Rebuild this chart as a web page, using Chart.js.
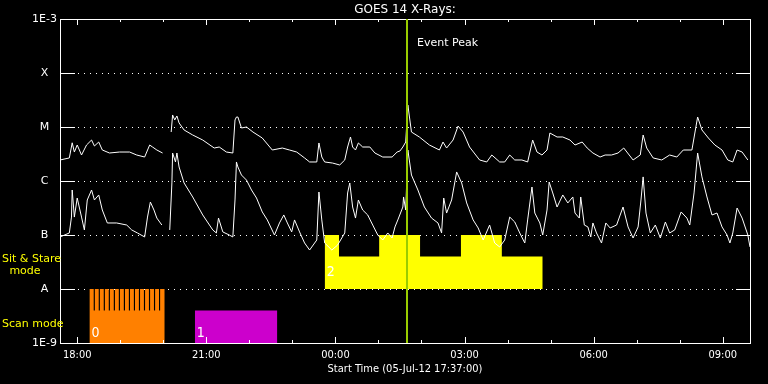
<!DOCTYPE html>
<html>
<head>
<meta charset="utf-8">
<title>GOES 14 X-Rays</title>
<script src="https://cdn.jsdelivr.net/npm/chart.js@4.4.1/dist/chart.umd.min.js"></script>
<style>
  html, body { margin: 0; padding: 0; background: #000; }
  #wrap { width: 768px; height: 384px; }
</style>
</head>
<body>
<div id="wrap"><canvas id="goesChart" width="768" height="384"></canvas></div>
<script>
// times are minutes after the start time, 05-Jul-12 17:37:00
const longTimes = [-1, 12, 16, 19, 23, 29, 36, 43, 47, 53, 58, 68, 82, 96, 106, 117, 124, 128, 134, 142, 148,
  154, 156, 159, 162, 165, 172, 184, 198, 214, 221, 231, 240, 243, 245, 247, 252, 259, 268, 281, 295, 309, 319,
  329, 340, 347, 357, 360, 364, 368, 379, 389, 396, 400, 404, 407, 411, 415, 421, 431, 438, 449, 462, 469, 473,
  477, 481, 484, 489, 500, 514, 528, 533, 538, 547, 554, 561, 570, 584, 594, 601, 612, 619, 626, 633, 643, 651,
  658, 664, 671, 678, 682, 692, 700, 710, 717, 727, 734, 742, 752, 759, 768, 777, 785, 798, 808, 812, 817, 826,
  838, 849, 859, 868, 880, 888, 894, 903, 912, 922, 930, 937, 943, 950, 958];
const longFlux = [2.45e-6, 2.67e-6, 5.1e-6, 3.44e-6, 4.64e-6, 3.03e-6, 4.64e-6, 5.74e-6, 4.45e-6, 5.27e-6, 3.75e-6,
  3.3e-6, 3.44e-6, 3.44e-6, 3.03e-6, 2.78e-6, 4.64e-6, 4.26e-6, 3.75e-6, 3.3e-6, null,
  8.07e-6, 1.67e-5, 1.35e-5, 1.6e-5, 1.19e-5, 8.8e-6, 7.11e-6, 5.74e-6, 4.08e-6, 4.26e-6, 3.44e-6, 3.3e-6,
  1.35e-5, 1.53e-5, 1.53e-5, 9.58e-6, 1.0e-5, 8.07e-6, 6.25e-6, 3.75e-6, 4.08e-6, 3.75e-6, 3.44e-6, 2.67e-6,
  2.25e-6, 2.25e-6, 5.06e-6, 2.78e-6, 2.25e-6, 2.15e-6, 1.98e-6, 2.45e-6, 4.26e-6, 6.53e-6, 4.26e-6, 3.75e-6,
  5.06e-6, 4.26e-6, 4.26e-6, 3.3e-6, 2.78e-6, 2.78e-6, 3.44e-6, 3.6e-6, 4.26e-6, 5.27e-6, 2.55e-5, 8.07e-6,
  6.53e-6, 4.64e-6, 3.75e-6, 5.27e-6, 4.08e-6, 5.74e-6, 1.04e-5, 8.07e-6, 4.26e-6, 2.45e-6, 2.25e-6, 3.03e-6,
  2.25e-6, 2.25e-6, 3.03e-6, 2.45e-6, 2.45e-6, 2.25e-6, 5.74e-6, 3.44e-6, 3.03e-6, 3.75e-6, 7.74e-6, 6.53e-6,
  6.53e-6, 5.74e-6, 4.64e-6, 5.27e-6, 4.08e-6, 3.3e-6, 2.78e-6, 3.03e-6, 3.03e-6, 3.3e-6, 4.08e-6, 2.45e-6,
  3.03e-6, 7.11e-6, 4.08e-6, 2.67e-6, 2.45e-6, 3.03e-6, 2.78e-6, 3.75e-6, 3.75e-6, 1.53e-5, 8.8e-6, 6.25e-6,
  4.64e-6, 3.75e-6, 2.45e-6, 2.25e-6, 3.75e-6, 3.44e-6, 2.45e-6];

const shortTimes = [-1, 12, 15, 16, 19, 23, 29, 33, 37, 43, 47, 53, 58, 65, 78, 92, 99, 107, 117, 121, 125, 130, 134,
  141, 148, 152, 155, 156, 160, 162, 165, 172, 184, 198, 212, 217, 220, 226, 235, 240, 243, 245, 247, 252, 259,
  266, 273, 281, 288, 298, 305, 311, 316, 322, 326, 333, 340, 347, 357, 360, 364, 368, 378, 386, 396, 400, 403,
  407, 411, 415, 421, 428, 435, 442, 449, 456, 462, 466, 470, 477, 478, 481, 484, 489, 498, 507, 517, 526, 531,
  534, 538, 545, 552, 559, 566, 575, 582, 589, 598, 605, 612, 619, 626, 633, 640, 647, 651, 657, 661, 668, 672,
  678, 681, 686, 692, 700, 707, 714, 717, 723, 725, 730, 735, 739, 742, 747, 754, 760, 766, 775, 784, 791, 798,
  805, 809, 812, 816, 822, 829, 836, 843, 849, 856, 865, 873, 877, 883, 888, 894, 901, 908, 915, 922, 929, 933,
  937, 943, 950, 958, 961];
const shortFlux = [9.19e-8, 1.09e-7, 2.15e-7, 6.81e-7, 2.15e-7, 4.84e-7, 2.15e-7, 1.24e-7, 4.45e-7, 6.81e-7,
  4.45e-7, 5.51e-7, 2.9e-7, 1.67e-7, 1.67e-7, 1.53e-7, 1.24e-7, 1.09e-7, 9.19e-8, 2.15e-7, 4.08e-7, 2.9e-7,
  2.06e-7, 1.53e-7, null, 1.24e-7, 9.19e-7, 3.3e-6, 2.25e-6, 3.3e-6, 1.82e-6, 9.19e-7, 5.06e-7, 2.35e-7,
  1.24e-7, 1.09e-7, 2.06e-7, 1.14e-7, 1.0e-7, 9.19e-8, 4.45e-7, 2.25e-6, 1.82e-6, 1.29e-6, 1.04e-6, 6.81e-7,
  4.84e-7, 2.67e-7, 1.9e-7, 1.0e-7, 1.67e-7, 2.35e-7, 1.67e-7, 1.14e-7, 1.9e-7, 1.14e-7, 7.11e-8, 5.27e-8,
  8.07e-8, 6.25e-7, 1.9e-7, 7.11e-8, 5.27e-8, 6.5e-8, 1.09e-7, 6.0e-7, 9.19e-7, 3.3e-7, 2.06e-7, 4.45e-7,
  2.9e-7, 2.35e-7, 1.53e-7, 1.0e-7, 8.07e-8, 1.09e-7, 8.8e-8, 1.41e-7, 1.9e-7, 3.3e-7, 5.06e-7, 2.9e-7,
  3.75e-6, 1.29e-6, 6.81e-7, 3.3e-7, 2.06e-7, 1.67e-7, 1.09e-7, 4.84e-7, 2.55e-7, 4.45e-7, 1.47e-6, 9.19e-7,
  3.92e-7, 1.9e-7, 1.35e-7, 8.07e-8, 1.53e-7, 7.11e-8, 6.0e-8, 8.07e-8, 2.15e-7, 1.74e-7, 1.09e-7, 7.11e-8,
  1.9e-7, 7.74e-7, 2.55e-7, 1.67e-7, 1.0e-7, 2.9e-7, 9.58e-7, 6.0e-7, 3.3e-7, 5.51e-7, 3.92e-7, 5.06e-7,
  2.55e-7, 2.06e-7, 5.06e-7, 1.53e-7, 1.41e-7, 9.19e-8, 1.67e-7, 1.09e-7, 7.11e-8, 1.67e-7, 1.35e-7, 1.53e-7,
  3.3e-7, 1.41e-7, 8.8e-8, 1.41e-7, 4.45e-7, 1.19e-6, 2.55e-7, 1.09e-7, 1.53e-7, 8.8e-8, 1.74e-7, 1.09e-7,
  1.24e-7, 2.67e-7, 2.06e-7, 1.53e-7, 6.0e-7, 3.3e-6, 1.19e-6, 5.06e-7, 2.35e-7, 2.55e-7, 1.41e-7, 1.0e-7,
  7.11e-8, 1.09e-7, 3.16e-7, 2.06e-7, 1.0e-7, 6.0e-8];

// observing modes (bottom strip)
const scan0Start = 40, scan0End = 145;
const scan0Gaps = [46, 53, 60, 67, 74, 81, 88, 95, 102, 109, 116, 123, 130, 137];
const scan1Start = 187, scan1End = 302;
const sitStarts = [368, 388, 444, 501, 558, 615];
const sitEnds = [388, 444, 501, 558, 615, 672];
const sitLevels = [1e-7, 4e-8, 1e-7, 4e-8, 1e-7, 4e-8];
const scanTop = 4e-9, scanToothTop = 1e-8;
const modeNames = ['0', '1', '2'];
const modeStarts = [scan0Start, scan1Start, sitStarts[0]];
const modeLabelLevels = [1.5e-9, 1.5e-9, 2.06e-8];

const eventPeak = 483;

// axes
const yTickValues = [1e-9, 1e-8, 1e-7, 1e-6, 1e-5, 1e-4, 1e-3];
const yTickLabels = ['1E-9', 'A', 'B', 'C', 'M', 'X', '1E-3'];
const gridLevels = [1e-8, 1e-7, 1e-6, 1e-5, 1e-4];
const xTickMinutes = [23, 203, 383, 563, 743, 923];
const xTickLabels = ['18:00', '21:00', '00:00', '03:00', '06:00', '09:00'];
const xMinorMinutes = [83, 143, 263, 323, 443, 503, 623, 683, 803, 863];

const pts = (xs, ys) => xs.map((x, i) => ({ x: x, y: ys[i] }));

const scan0Pts = [{ x: scan0Start, y: scanToothTop }];
scan0Gaps.forEach(g => {
  scan0Pts.push({ x: g, y: scanToothTop }, { x: g, y: scanTop }, { x: g + 1.6, y: scanTop }, { x: g + 1.6, y: scanToothTop });
});
scan0Pts.push({ x: scan0End, y: scanToothTop });

const sitPts = [];
sitStarts.forEach((s, i) => { sitPts.push({ x: s, y: sitLevels[i] }, { x: sitEnds[i], y: sitLevels[i] }); });

const goesFrame = {
  id: 'goesFrame',
  beforeDraw(chart) {
    const ctx = chart.ctx;
    ctx.save();
    ctx.fillStyle = '#000';
    ctx.fillRect(0, 0, chart.width, chart.height);
    ctx.restore();
  },
  beforeDatasetsDraw(chart) {
    const { ctx, chartArea: a, scales: { y } } = chart;
    ctx.save();
    ctx.strokeStyle = '#fff';
    ctx.lineWidth = 1;
    ctx.setLineDash([1, 5]);
    gridLevels.forEach(v => {
      const py = Math.round(y.getPixelForValue(v)) + 0.5;
      ctx.beginPath();
      ctx.moveTo(a.left + 18, py);
      ctx.lineTo(a.right - 14, py);
      ctx.stroke();
    });
    ctx.restore();
  },
  afterDatasetsDraw(chart) {
    const { ctx, chartArea: a, scales: { x, y } } = chart;
    ctx.save();
    ctx.strokeStyle = '#fff';
    ctx.lineWidth = 1;
    ctx.strokeRect(a.left + 0.5, a.top + 0.5, a.right - a.left, a.bottom - a.top);

    ctx.beginPath();
    gridLevels.forEach(v => {
      const py = Math.round(y.getPixelForValue(v)) + 0.5;
      ctx.moveTo(a.left, py); ctx.lineTo(a.left + 15, py);
      ctx.moveTo(a.right - 14, py); ctx.lineTo(a.right, py);
    });
    const tick = (v, len) => {
      const px = Math.round(x.getPixelForValue(v)) + 0.5;
      ctx.moveTo(px, a.bottom); ctx.lineTo(px, a.bottom - len);
      ctx.moveTo(px, a.top); ctx.lineTo(px, a.top + len);
    };
    xTickMinutes.forEach(v => tick(v, 6));
    xMinorMinutes.forEach(v => tick(v, 3));
    ctx.stroke();

    // event peak marker
    const ex = Math.round(x.getPixelForValue(eventPeak));
    ctx.strokeStyle = '#99cc00';
    ctx.lineWidth = 2;
    ctx.beginPath();
    ctx.moveTo(ex, a.top);
    ctx.lineTo(ex, a.bottom);
    ctx.stroke();

    ctx.fillStyle = '#fff';
    ctx.font = '11px "DejaVu Sans"';
    ctx.textBaseline = 'middle';
    ctx.textAlign = 'left';
    ctx.fillText('Event Peak', ex + 10, a.top + 24);

    // mode numbers
    ctx.font = '14px "DejaVu Sans Condensed", "DejaVu Sans"';
    modeNames.forEach((m, i) => {
      ctx.fillText(m, x.getPixelForValue(modeStarts[i]) + 2, y.getPixelForValue(modeLabelLevels[i]));
    });

    // mode captions on the left
    ctx.fillStyle = '#ffff00';
    ctx.font = '11px "DejaVu Sans"';
    ctx.fillText('Sit & Stare', 2, y.getPixelForValue(3.6e-8));
    ctx.textAlign = 'center';
    ctx.fillText('mode', 25, y.getPixelForValue(2.15e-8));
    ctx.textAlign = 'left';
    ctx.fillText('Scan mode', 2, y.getPixelForValue(2.25e-9));
    ctx.restore();
  }
};

new Chart(document.getElementById('goesChart'), {
  type: 'line',
  data: {
    datasets: [
      { label: 'long', data: pts(longTimes, longFlux), borderColor: '#fff', borderWidth: 1, pointRadius: 0, tension: 0, spanGaps: false, order: 0 },
      { label: 'short', data: pts(shortTimes, shortFlux), borderColor: '#fff', borderWidth: 1, pointRadius: 0, tension: 0, spanGaps: false, order: 0 },
      { label: 'scan0', data: scan0Pts, borderWidth: 0, pointRadius: 0, backgroundColor: '#ff8000', fill: 'start', order: 2 },
      { label: 'scan1', data: [{ x: scan1Start, y: scanTop }, { x: scan1End, y: scanTop }], borderWidth: 0, pointRadius: 0, backgroundColor: '#cc00cc', fill: 'start', order: 2 },
      { label: 'sit', data: sitPts, borderWidth: 0, pointRadius: 0, backgroundColor: '#ffff00', fill: { value: 1e-8 }, order: 2 }
    ]
  },
  options: {
    responsive: false,
    animation: false,
    devicePixelRatio: 1,
    layout: { padding: { left: 0, right: 18, top: 0, bottom: 0 } },
    plugins: {
      legend: { display: false },
      tooltip: { enabled: false },
      title: {
        display: true,
        text: 'GOES 14 X-Rays:',
        color: '#fff',
        fullSize: false,
        font: { family: 'DejaVu Sans', size: 12, weight: 'normal', lineHeight: 1 },
        padding: { top: 4, bottom: 3 }
      }
    },
    scales: {
      x: {
        type: 'linear',
        min: -1,
        max: 961,
        grid: { display: false, drawTicks: false },
        border: { display: false },
        afterBuildTicks: s => { s.ticks = xTickMinutes.map(v => ({ value: v })); },
        afterFit: s => { s.height = 41; },
        ticks: {
          color: '#fff',
          padding: 6,
          autoSkip: false,
          maxRotation: 0,
          font: { family: '"DejaVu Sans Condensed", "DejaVu Sans"', size: 11 },
          callback: (v, i) => xTickLabels[i]
        },
        title: {
          display: true,
          text: 'Start Time (05-Jul-12 17:37:00)',
          color: '#fff',
          font: { family: '"DejaVu Sans Condensed", "DejaVu Sans"', size: 11 },
          padding: { top: 0, bottom: 8 }
        }
      },
      y: {
        type: 'logarithmic',
        min: 1e-9,
        max: 1e-3,
        grid: { display: false, drawTicks: false },
        border: { display: false },
        afterBuildTicks: s => { s.ticks = yTickValues.map(v => ({ value: v })); },
        afterFit: s => { s.width = 60; },
        ticks: {
          color: '#fff',
          padding: 3,
          crossAlign: 'center',
          font: { family: 'DejaVu Sans', size: 11 },
          callback: (v, i) => yTickLabels[i]
        }
      }
    }
  },
  plugins: [goesFrame]
});
</script>
</body>
</html>
